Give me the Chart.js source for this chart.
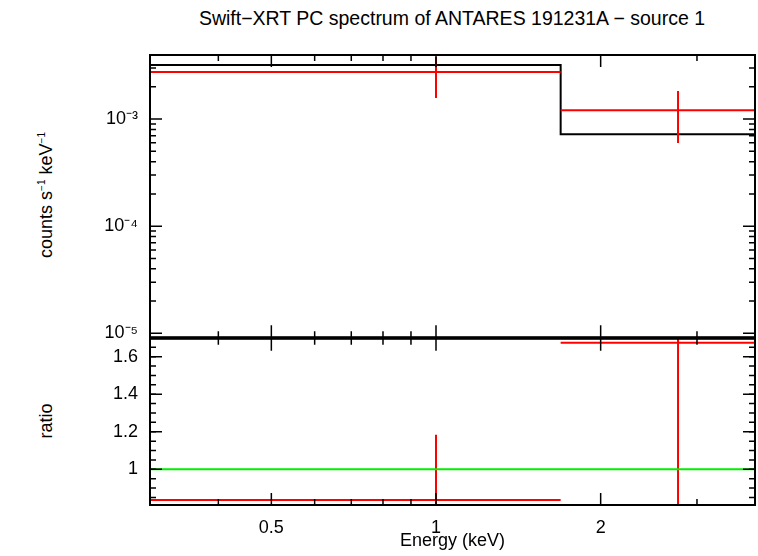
<!DOCTYPE html><html><head><meta charset="utf-8">
<script src="https://cdn.jsdelivr.net/npm/chart.js@4/dist/chart.umd.min.js"></script>
<style>body{margin:0;background:#fff;width:758px;height:556px;position:relative;overflow:hidden;font-family:"Liberation Sans",sans-serif}
canvas{position:absolute;left:0}
.t{position:absolute;font-size:18px;color:#000;white-space:nowrap}</style></head><body>
<div class="t" style="left:0;width:904px;text-align:center;top:7px;font-size:19.5px">Swift−XRT PC spectrum of ANTARES 191231A − source 1</div>
<div class="t" style="left:46px;top:195px;transform:translate(-50%,-50%) rotate(-90deg)">counts s<sup style="font-size:10px">−1</sup> keV<sup style="font-size:10px">−1</sup></div>
<div class="t" style="left:46px;top:421px;transform:translate(-50%,-50%) rotate(-90deg)">ratio</div>
<div style="position:absolute;left:0;top:0;width:758px;height:352px"><canvas id="c1"></canvas></div>
<div style="position:absolute;left:0;top:324px;width:758px;height:232px"><canvas id="c2"></canvas></div>
<script>
const xMin=0.3, xMax=3.83;
const binEdges=[0.3,1.69,3.83];
const binCenters=[1.0,2.77];
const modelVals=[3.2e-3,7.2e-4];
const dataVals=[2.75e-3,1.21e-3];
const dataLo=[1.57e-3,5.97e-4];
const dataHi=[3.8e-3,1.83e-3];
const ratioVals=[0.837,1.674];
const ratioLo=[0.5,0.5];
const ratioHi=[1.184,2.5];
const xTickVals=[0.3,0.4,0.5,0.6,0.7,0.8,0.9,1,2,3];
const xTickLabels=[0.5,1,2];
const yTickVals=[1e-5,1e-4,1e-3];
const rTickVals=[1,1.2,1.4,1.6];

const RED='#ff0000';
const F={size:18,family:'Liberation Sans'};
function seg(a,b,color,w){return {data:[a,b],borderColor:color,borderWidth:w||2,showLine:true,pointRadius:0,fill:false};}
const tickPlugin={id:'inTicks',afterDraw(ch){const c=ch.ctx,a=ch.chartArea;c.save();c.strokeStyle='#000';c.lineWidth=1.5;
 const xs=ch.scales.x;xs.ticks.forEach(t=>{const p=xs.getPixelForValue(t.value);const L=xTickLabels.includes(t.value)?12:6;
  c.beginPath();c.moveTo(p,a.bottom);c.lineTo(p,a.bottom-L);c.moveTo(p,a.top);c.lineTo(p,a.top+L);c.stroke();});
 const ys=ch.scales.y;ys.ticks.forEach(t=>{const p=ys.getPixelForValue(t.value);if(p<a.top-1||p>a.bottom+1)return;const L=12;
  c.beginPath();c.moveTo(a.left,p);c.lineTo(a.left+L,p);c.moveTo(a.right,p);c.lineTo(a.right-L,p);c.stroke();});
 if(ch.options.minorY){ch.options.minorY.forEach(v=>{const p=ys.getPixelForValue(v);if(p<a.top||p>a.bottom)return;
  c.beginPath();c.moveTo(a.left,p);c.lineTo(a.left+6,p);c.moveTo(a.right,p);c.lineTo(a.right-6,p);c.stroke();});}
 c.lineWidth=2;c.strokeRect(a.left,a.top,a.right-a.left,a.bottom-a.top);c.restore();}};
const xAxis=(show)=>({type:'logarithmic',min:xMin,max:xMax,grid:{display:false},border:{display:false},
 afterBuildTicks:s=>{s.ticks=xTickVals.map(v=>({value:v}));},
 afterFit:s=>{if(show)s.height=51;},
 ticks:{display:show,autoSkip:false,maxRotation:0,color:'#000',font:F,padding:4,
  callback:v=>xTickLabels.includes(v)?String(v):''},
 title:{display:show,text:'Energy (keV)',color:'#000',font:F,padding:{top:2}},display:true});
const d1=[];
for(let i=0;i<2;i++){d1.push(seg({x:binEdges[i],y:dataVals[i]},{x:binEdges[i+1],y:dataVals[i]},RED));
 d1.push(seg({x:binCenters[i],y:dataLo[i]},{x:binCenters[i],y:dataHi[i]},RED));}
const step=[];for(let i=0;i<2;i++){step.push({x:binEdges[i],y:modelVals[i]},{x:binEdges[i+1],y:modelVals[i]});}
d1.push({data:step,borderColor:'#000',borderWidth:2,showLine:true,pointRadius:0,fill:false});
const minorY=[];for(let e=-6;e<=-3;e++)for(let k=2;k<=9;k++)minorY.push(k*Math.pow(10,e));
new Chart(document.getElementById('c1'),{type:'scatter',data:{datasets:d1},plugins:[tickPlugin],
 options:{minorY,animation:false,responsive:true,maintainAspectRatio:false,layout:{padding:{top:55,right:3,bottom:3,left:0}},
 plugins:{legend:{display:false},tooltip:{enabled:false}},
 scales:{x:Object.assign(xAxis(false),{display:false}),
  y:{type:'logarithmic',min:9.2e-6,max:3.96e-3,grid:{display:false},border:{display:false},
   afterBuildTicks:s=>{s.ticks=yTickVals.map(v=>({value:v}));},afterFit:s=>{s.width=150;},
   ticks:{color:'#000',font:F,padding:4,callback:v=>'10'+{'-5':'⁻⁵','-4':'⁻⁴','-3':'⁻³'}[Math.round(Math.log10(v))]}}}}});
const d2=[seg({x:xMin,y:1},{x:xMax,y:1},'#00ee00')];
for(let i=0;i<2;i++){d2.push(seg({x:binEdges[i],y:ratioVals[i]},{x:binEdges[i+1],y:ratioVals[i]},RED));
 d2.push(seg({x:binCenters[i],y:ratioLo[i]},{x:binCenters[i],y:ratioHi[i]},RED));}
const minorR=[];for(let v=0.85;v<1.7;v+=0.05)minorR.push(v);
new Chart(document.getElementById('c2'),{type:'scatter',data:{datasets:d2},plugins:[tickPlugin],
 options:{minorY:minorR,animation:false,responsive:true,maintainAspectRatio:false,layout:{padding:{top:0,right:3,bottom:0,left:0}},
 plugins:{legend:{display:false},tooltip:{enabled:false}},
 scales:{x:xAxis(true),
  y:{type:'linear',min:0.81,max:1.695,grid:{display:false},border:{display:false},
   afterBuildTicks:s=>{s.ticks=rTickVals.map(v=>({value:v}));},afterFit:s=>{s.width=150;},
   ticks:{color:'#000',font:F,padding:4,callback:v=>v===1?'1':v.toFixed(1)}}}}});
</script></body></html>
